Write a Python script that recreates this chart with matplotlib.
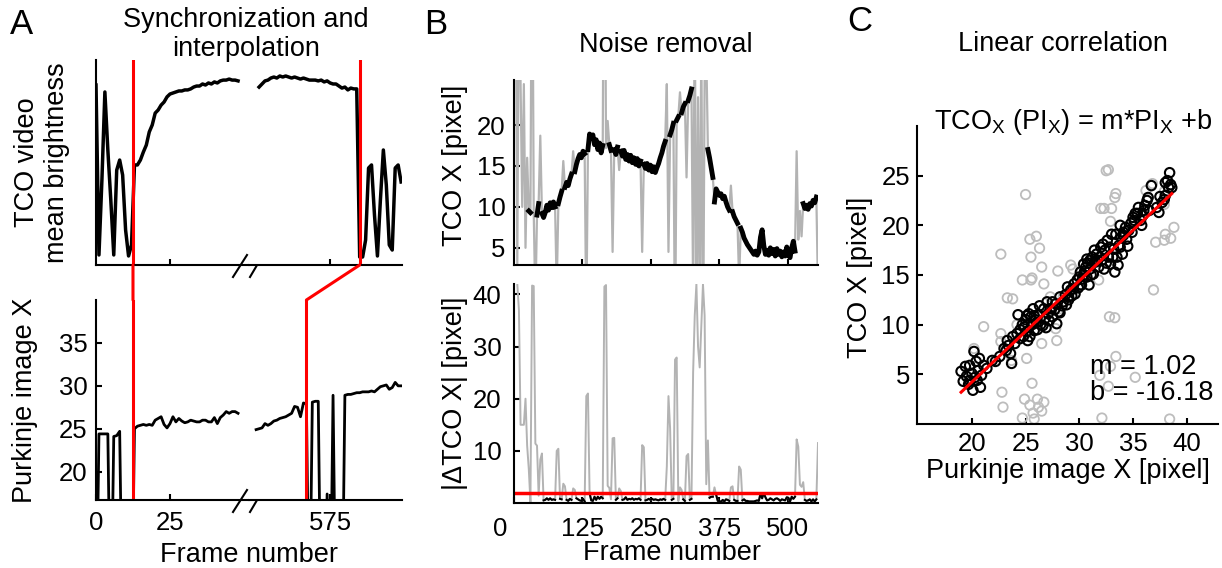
import numpy as np
import matplotlib
matplotlib.use('Agg')
import matplotlib.pyplot as plt
from matplotlib.patches import ConnectionPatch
from matplotlib.transforms import ScaledTranslation

plt.rcParams['font.family'] = ['Liberation Sans', 'DejaVu Sans']
plt.rcParams['mathtext.default'] = 'regular'

RED = '#ff0000'
GRAY = '#b3b3b3'

# ---- panel A: TCO brightness (arbitrary units) and Purkinje X ----
bright_left_frames = np.arange(0, 49)
bright_left = [87.8, 4.9, 41.5, 84.4, 56.1, 31.7, 4.9, 46.3, 51.2, 43.9,
               17.1, 4.4, 9.8, 48.8, 48.8, 51.2, 55.1, 58.5, 64.9, 68.3,
               74.1, 75.6, 78.0, 79.5, 82.0, 83.4, 83.9, 84.4, 84.9, 84.9,
               85.4, 85.4, 85.9, 86.8, 87.3, 87.3, 88.3, 87.8, 88.8, 88.3,
               89.3, 88.8, 89.8, 90.2, 90.2, 90.7, 90.2, 90.2, 89.8]
bright_right_frames = np.arange(551, 600)
bright_right = [86.8, 88.3, 89.8, 90.2, 91.2, 91.7, 91.2, 92.2, 91.7, 92.2,
                91.7, 91.2, 91.7, 91.2, 90.7, 91.2, 90.7, 90.2, 90.2, 90.2,
                89.8, 90.2, 89.3, 89.8, 88.8, 88.3, 88.3, 87.3, 86.3, 86.8,
                85.4, 86.3, 85.9, 85.9, 3.9, 3.9, 12.2, 47.3, 48.8, 24.4,
                4.4, 31.7, 56.1, 39.0, 9.8, 7.3, 47.3, 48.8, 40.5]

purk_left_frames = np.arange(0, 49)
purk_left = [0, 24.4, 24.4, 24.4, 24.4, 0, 24.1, 24.2, 24.7, 0,
             0, 0, 0, 25.0, 25.3, 25.4, 25.5, 25.4, 25.5, 25.4,
             26.0, 26.2, 26.4, 25.5, 25.1, 25.6, 26.4, 25.8, 26.2, 25.9,
             25.7, 25.8, 26.0, 25.9, 25.8, 25.8, 26.0, 26.0, 25.8, 25.8,
             26.3, 25.6, 26.3, 26.6, 27.0, 26.8, 27.0, 27.0, 26.8]
purk_right_frames = np.arange(550, 600)
purk_right = [24.9, 25.0, 25.1, 25.6, 25.4, 25.6, 25.9, 26.0, 26.2, 26.3,
              26.4, 26.6, 26.8, 27.6, 27.5, 26.4, 28.0, 27.9, 0, 28.1,
              28.2, 28.2, 0, 0, 17.4, 0, 28.9, 0, 0, 0,
              28.9, 29.0, 29.0, 29.1, 29.2, 29.2, 29.3, 29.3, 29.3, 29.4,
              29.3, 29.6, 29.9, 30.0, 30.1, 29.6, 29.8, 30.4, 30.0, 30.0]

# synchronisation frames: (TCO frame, Purkinje frame)
sync_pairs = [(12.5, 12.5), (585, 567)]

# ---- panel B: raw TCO X, every 3rd frame ----
tco_frames = np.arange(3, 556, 3)
tco_raw = [45, 3, 40, 25, 10, 25, 5, 16, 9.5, 9.3,
           51, 9.4, -2, 9.0, 10.4, 18.7, 9.2, 8.7, 9.3, 10.2,
           9.6, 10.5, 9.9, 10.6, 10.0, 0.0, 10.4, 11.2, 11.9, 15.6,
           12.4, 13.0, 12.6, 13.4, 14.0, 16.8, 14.3, 15.2, 15.9, 16.4,
           16.0, 16.8, 16.5, -4.0, 17.0, 18.9, 18.4, 18.8, 17.6, 18.2,
           17.0, 17.8, 16.6, 17.5, 59.0, 17.2, 20.5, 17.6, 16.9, 4.5,
           17.0, 16.4, 17.3, 14.5, 16.8, 16.2, 16.9, 15.8, 16.4, 15.6,
           16.3, 15.4, 16.0, 15.2, 15.9, 15.0, 15.6, 4.5, 15.2, 14.7,
           15.3, 14.5, 15.1, 14.3, 14.9, 14.2, 14.8, 15.3, 16.0, 16.6,
           17.4, 18.0, 25.0, 4.5, 18.8, 19.4, 20.2, -7.3, 20.6, 21.0,
           24.0, 21.5, 22.2, 22.6, 13.6, 23.0, 23.6, 24.4, -0.6, 35.4,
           -6.6, 23.4, -2.6, 31.4, -10.6, 25.4, 29.0, 17.0, 16.0, 14.8,
           13.6, 10.6, 12.2, 11.8, 11.4, 11.6, 11.0, 11.3, 10.6, 10.0,
           9.6, 12.6, 9.4, 8.8, 8.4, 8.0, 1.0, 7.4, 6.9, 6.2,
           5.8, 5.4, 5.1, 4.8, 4.5, 4.2, 4.6, 4.1, 4.5, 6.3,
           7.2, 5.3, 4.2, 4.7, 4.1, 5.0, 4.3, 4.8, 4.0, 4.9,
           4.2, 4.6, 3.9, 4.5, 4.0, 5.1, 4.1, 3.8, 5.0, 5.8,
           4.6, 16.8, 6.0, 9.5, 6.4, 10.4, 9.8, 10.2, 9.7, 10.4,
           10.1, 10.8, 10.5, 11.2, -0.3]
threshold = 2.0

# ---- panel C: (Purkinje X, TCO X) ----
clean_pts = [(19.0, 5.3), (19.2, 4.3), (19.5, 4.8), (19.7, 4.0), (19.8, 5.9), (20.0, 5.1),
             (20.1, 3.4), (20.2, 7.3), (20.4, 6.3), (20.5, 4.4), (20.6, 5.4), (20.8, 3.7),
             (20.9, 4.9), (21.1, 5.9), (20.7, 6.6), (19.4, 5.8), (20.3, 4.7), (19.8, 4.4),
             (21.9, 6.4), (22.6, 6.8), (23.0, 7.6), (23.3, 8.4), (23.6, 7.1), (23.7, 6.1),
             (23.8, 8.8), (24.2, 9.1), (24.3, 11.0), (24.7, 10.0), (24.8, 8.8), (25.0, 10.5),
             (25.1, 9.3), (25.3, 11.1), (25.4, 8.8), (25.6, 10.0), (25.7, 11.6), (25.9, 10.5),
             (26.1, 9.5), (26.2, 11.0), (26.4, 10.0), (26.7, 11.6), (26.8, 10.6), (27.0, 12.3),
             (27.1, 11.1), (27.3, 11.6), (27.5, 10.8), (27.8, 12.1), (27.9, 10.1), (28.1, 11.3),
             (28.2, 12.8), (28.5, 12.3), (28.7, 13.0), (28.9, 13.8), (29.0, 12.5), (29.2, 13.5),
             (29.5, 14.1), (29.6, 13.1), (29.8, 14.5), (30.0, 14.8), (30.1, 15.3), (30.2, 14.0),
             (30.4, 16.1), (30.6, 15.8), (30.7, 14.8), (30.7, 16.6), (30.9, 14.0), (31.0, 15.6),
             (31.2, 16.8), (31.3, 15.1), (31.5, 16.3), (31.6, 17.1), (31.8, 15.8), (32.0, 17.8),
             (32.1, 16.5), (32.3, 15.6), (32.4, 17.5), (32.6, 18.5), (32.7, 16.8), (32.9, 16.1),
             (33.0, 19.1), (33.2, 17.6), (33.3, 15.3), (33.5, 16.8), (33.7, 18.0), (33.8, 20.0),
             (34.0, 17.1), (34.1, 19.0), (34.3, 19.8), (34.4, 18.6), (34.8, 20.2), (34.9, 19.3),
             (35.2, 21.2), (35.5, 21.8), (35.7, 20.5), (35.8, 20.0), (36.1, 22.0), (36.3, 22.5),
             (36.5, 21.5), (36.7, 24.0), (37.4, 21.3), (37.7, 22.3), (38.0, 23.0), (38.2, 24.5),
             (38.3, 23.8), (38.4, 25.3), (38.6, 23.8), (38.0, 24.3),
             (25.1, 10.9), (24.5, 9.5), (24.0, 8.1), (23.2, 7.4), (25.5, 10.8), (25.8, 9.4),
             (26.3, 11.9), (26.9, 9.7), (27.5, 12.3), (28.2, 11.2), (29.0, 12.8), (29.4, 13.6),
             (30.1, 14.0), (30.4, 15.0), (31.0, 16.5), (31.4, 17.5), (31.9, 16.8), (32.2, 18.1),
             (32.8, 17.8), (33.1, 16.8), (33.4, 19.1), (33.8, 17.8), (34.1, 19.3), (34.6, 19.5),
             (35.1, 20.5), (35.4, 21.2), (36.0, 21.5), (37.2, 21.8), (37.5, 22.9),
             (21.4, 5.6), (22.2, 6.3), (23.4, 7.9), (24.5, 8.6), (24.9, 9.8), (25.2, 8.4),
             (25.8, 10.9), (26.0, 10.2), (26.6, 9.9), (27.2, 10.4), (27.7, 11.5), (28.4, 11.9),
             (28.8, 12.0), (29.3, 12.9), (29.9, 13.7), (30.3, 14.6), (30.5, 15.4), (30.8, 16.2),
             (31.1, 15.0), (31.7, 16.5), (32.5, 16.2), (33.6, 16.0), (33.9, 18.8), (34.5, 17.9),
             (35.0, 20.8), (35.9, 21.0), (36.4, 22.8), (37.9, 22.6), (38.5, 24.1)]
noise_pts = [(25.0, 23.1), (25.4, 18.6), (26.0, 18.9), (26.3, 17.7), (25.5, 16.8), (22.7, 17.1),
             (24.7, 14.5), (25.5, 14.5), (25.6, 14.7), (26.5, 15.8), (26.7, 14.1), (28.0, 15.4),
             (29.2, 16.0), (29.4, 15.6), (23.3, 12.7), (23.8, 12.6), (21.1, 9.8), (22.7, 9.1),
             (22.7, 8.3), (23.7, 6.4), (25.1, 6.6), (26.5, 8.1), (27.9, 8.4), (27.8, 9.6),
             (26.5, 11.0), (24.2, 10.0), (20.2, 7.6), (22.8, 3.2), (22.9, 1.7), (24.9, 2.5),
             (25.6, 4.1), (25.4, 1.9), (26.1, 2.5), (26.2, 1.7), (26.7, 2.2), (25.7, 1.1),
             (24.7, 0.6), (25.8, 0.5), (26.5, 1.3), (32.5, 25.5), (32.7, 25.6), (33.4, 23.2),
             (33.3, 22.8), (32.0, 21.7), (32.3, 21.7), (33.0, 21.7), (32.9, 20.4), (31.8, 14.5),
             (32.8, 10.8), (33.3, 10.7), (33.4, 6.8), (32.9, 5.8), (31.9, 4.9), (32.7, 3.8),
             (35.2, 4.7), (32.1, 0.6), (38.4, 0.5), (36.2, 23.5), (36.8, 24.2), (36.9, 13.5),
             (37.1, 18.3), (38.0, 19.1), (38.5, 18.7), (38.8, 19.8), (37.9, 18.5), (37.9, 22.1),
             (37.9, 23.4), (28.5, 12.8), (27.3, 12.8), (28.2, 11.6)]
fit_m, fit_b = 1.02, -16.18

# ---------------------------------------------------------------
W, H = 1222, 568
fig = plt.figure(figsize=(W / 100, H / 100), dpi=100)


def box(l, r, t, b):
    return [l / W, 1 - b / H, (r - l) / W, (b - t) / H]


def style(ax, pad=6):
    for s in ['top', 'right']:
        ax.spines[s].set_visible(False)
    for s in ['left', 'bottom']:
        ax.spines[s].set_linewidth(1.5)
    ax.tick_params(direction='in', length=4, width=1.5, labelsize=18.5, pad=pad)


a_tl = fig.add_axes(box(96, 249, 60, 265))
a_tr = fig.add_axes(box(249, 402, 60, 265))
a_bl = fig.add_axes(box(96, 249, 300, 500))
a_br = fig.add_axes(box(249, 402, 300, 500))
b_t = fig.add_axes(box(514, 818, 80, 265))
b_b = fig.add_axes(box(514, 818, 284, 503))
c_ax = fig.add_axes(box(917, 1218, 126, 424))

for ax in [a_tl, a_tr, a_bl, a_br, b_t, b_b, c_ax]:
    style(ax)

# ---- A ----
a_tl.plot(bright_left_frames, bright_left, color='k', lw=2.5)
a_tr.plot(bright_right_frames, bright_right, color='k', lw=2.5)
a_bl.plot(purk_left_frames, purk_left, color='k', lw=2)
a_br.plot(purk_right_frames, purk_right, color='k', lw=2)

for ax in [a_tl, a_bl]:
    ax.set_xlim(0, 51.7)
for ax in [a_tr, a_br]:
    ax.set_xlim(547.6, 599.3)
    ax.spines['left'].set_visible(False)
    ax.tick_params(axis='y', left=False, labelleft=False)
for ax in [a_tl, a_tr]:
    ax.set_ylim(0, 100)
    ax.tick_params(axis='x', labelbottom=False)
a_tl.tick_params(axis='y', left=False, labelleft=False)
for ax in [a_bl, a_br]:
    ax.set_ylim(16.7, 40)
a_bl.set_yticks([20, 25, 30, 35])
a_tl.set_xticks([25])
a_bl.set_xticks([0, 25])
a_tr.set_xticks([575])
a_br.set_xticks([575])
a_bl.tick_params(axis='x', pad=8)
a_br.tick_params(axis='x', pad=8)

# synchronisation lines
for (ft, fb), (at, ab) in zip(sync_pairs, [(a_tl, a_bl), (a_tr, a_br)]):
    at.axvline(ft, color=RED, lw=2.2)
    ab.axvline(fb, color=RED, lw=2.2)
    con = ConnectionPatch(xyA=(ft, 0), coordsA='data', axesA=at,
                          xyB=(fb, 40), coordsB='data', axesB=ab,
                          color=RED, lw=2.2)
    fig.add_artist(con)

# axis break marks
for ax, h in [(a_tl, 205), (a_bl, 200)]:
    for x0, x1 in [(233, 247), (250, 263)]:
        ax.plot([(x0 - 96) / 153, (x1 - 96) / 153], [-12 / h, 10 / h],
                transform=ax.transAxes, color='k', lw=1.5, clip_on=False)

a_tl.set_ylabel('TCO video\nmean brightness', fontsize=19.5, linespacing=1.2)
a_tl.yaxis.set_label_coords(-0.17, 0.5)
a_bl.set_ylabel('Purkinje image X', fontsize=19.5)
a_bl.yaxis.set_label_coords(-0.38, 0.5)
a_bl.set_xlabel('Frame number', fontsize=19.5)
a_bl.xaxis.set_label_coords(1.0, -0.21)

# ---- B ----
raw = np.array(tco_raw, dtype=float)
dtco = np.abs(np.diff(raw))
# clean trace: raw signal cut wherever the frame-to-frame jump exceeds the threshold
brk = np.where(dtco > threshold)[0] + 1
clean_x = np.insert(tco_frames.astype(float), brk, np.nan)
clean_y = np.insert(raw, brk, np.nan)

b_t.plot(tco_frames, raw, color=GRAY, lw=1.6)
b_t.plot(clean_x, clean_y, color='k', lw=3.5)
b_t.set_xlim(0, 555)
b_t.set_ylim(2.9, 25.5)
b_t.set_yticks([5, 10, 15, 20])
b_t.set_xticks([125, 250, 375, 500])
b_t.tick_params(axis='x', labelbottom=False)
b_t.set_ylabel('TCO X [pixel]', fontsize=19.5)
b_t.yaxis.set_label_coords(-0.15, 0.54)

b_b.plot(tco_frames[1:], dtco, color=GRAY, lw=1.4)
b_b.plot(tco_frames[1:], np.where(dtco <= threshold, dtco, np.nan), color='k', lw=1.5)
b_b.axhline(threshold, color=RED, lw=2.5)
b_b.set_xlim(0, 555)
b_b.set_ylim(0, 42)
b_b.set_yticks([10, 20, 30, 40])
b_b.set_xticks([0, 125, 250, 375, 500])
b_b.tick_params(axis='x', pad=10)
b_b.tick_params(axis='y', pad=9)
lbl0 = b_b.get_xticklabels()[0]
lbl0.set_transform(lbl0.get_transform() + ScaledTranslation(-0.14, 0, fig.dpi_scale_trans))
b_b.set_ylabel('|ΔTCO X| [pixel]', fontsize=19.5)
b_b.yaxis.set_label_coords(-0.15, 0.5)
b_b.set_xlabel('Frame number', fontsize=19.5)
b_b.xaxis.set_label_coords(0.52, -0.17)

# ---- C ----
cp = np.array(clean_pts)
npts = np.array(noise_pts)
c_ax.scatter(npts[:, 0], npts[:, 1], s=46, facecolors='none', edgecolors='#bdbdbd', linewidths=1.3, zorder=2)
c_ax.scatter(cp[:, 0], cp[:, 1], s=46, facecolors='none', edgecolors='k', linewidths=1.5, zorder=3)
fx = np.array([cp[:, 0].min(), cp[:, 0].max()])
c_ax.plot(fx, fit_m * fx + fit_b, color=RED, lw=2.2, zorder=4)
c_ax.set_xlim(14.9, 42.9)
c_ax.set_ylim(0, 30)
c_ax.set_xticks([20, 25, 30, 35, 40])
c_ax.set_yticks([5, 10, 15, 20, 25])
c_ax.tick_params(axis='y', pad=5)
c_ax.set_ylabel('TCO X [pixel]', fontsize=19.5)
c_ax.yaxis.set_label_coords(-0.146, 0.493)
c_ax.set_xlabel('Purkinje image X [pixel]', fontsize=19.5)
c_ax.xaxis.set_label_coords(0.5, -0.114)
c_ax.text(0.518, 1.013, r'TCO$_X$ (PI$_X$) = m*PI$_X$ +b', transform=c_ax.transAxes,
          ha='center', va='center', fontsize=19.5)
c_ax.text(0.575, 0.191, 'm = %.2f' % fit_m, transform=c_ax.transAxes,
          ha='left', va='center', fontsize=19.5)
c_ax.text(0.575, 0.104, 'b = %.2f' % fit_b, transform=c_ax.transAxes,
          ha='left', va='center', fontsize=19.5)

# ---- titles and panel letters ----
fig.text(0.2013, 0.940, 'Synchronization and\ninterpolation', ha='center', va='center',
         fontsize=19.5, linespacing=1.15)
fig.text(0.545, 0.921, 'Noise removal', ha='center', va='center', fontsize=19.5)
fig.text(0.870, 0.923, 'Linear correlation', ha='center', va='center', fontsize=19.5)
for lt, x, y in [('A', 0.0176, 0.956), ('B', 0.3568, 0.956), ('C', 0.7038, 0.962)]:
    fig.text(x, y, lt, ha='center', va='center', fontsize=25)

fig.savefig('out.png', dpi=100)
